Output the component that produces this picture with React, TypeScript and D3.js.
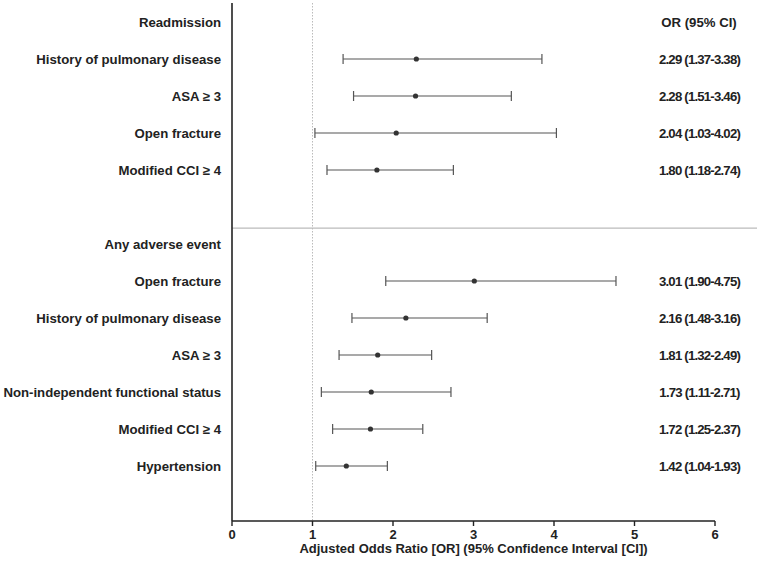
import React from "react";
import * as d3 from "d3";

const labels = [
  "Readmission",
  "History of pulmonary disease",
  "ASA ≥ 3",
  "Open fracture",
  "Modified CCI ≥ 4",
  "",
  "Any adverse event",
  "Open fracture",
  "History of pulmonary disease",
  "ASA ≥ 3",
  "Non-independent functional status",
  "Modified CCI ≥ 4",
  "Hypertension",
];
const orValues = [null, 2.29, 2.28, 2.04, 1.8, null, null, 3.01, 2.16, 1.81, 1.73, 1.72, 1.42];
const ciLow = [null, 1.38, 1.51, 1.03, 1.18, null, null, 1.91, 1.49, 1.33, 1.11, 1.25, 1.04];
const ciHigh = [null, 3.85, 3.47, 4.03, 2.75, null, null, 4.77, 3.17, 2.48, 2.72, 2.37, 1.93];
const ciHeader = "OR (95% CI)";
const ciText = [
  "",
  "2.29 (1.37-3.38)",
  "2.28 (1.51-3.46)",
  "2.04 (1.03-4.02)",
  "1.80 (1.18-2.74)",
  "",
  "",
  "3.01 (1.90-4.75)",
  "2.16 (1.48-3.16)",
  "1.81 (1.32-2.49)",
  "1.73 (1.11-2.71)",
  "1.72 (1.25-2.37)",
  "1.42 (1.04-1.93)",
];
const xTicks = [0, 1, 2, 3, 4, 5, 6];
const xTitle = "Adjusted Odds Ratio [OR] (95% Confidence Interval [CI])";

export default function App() {
  const W = 761, H = 569;
  const x = d3.scaleLinear().domain([0, 6]).range([232, 715]);
  const y = d3.scaleLinear().domain([0, 12]).range([22, 466]);
  const axisY = 521;
  const font = "'Liberation Sans', Arial, sans-serif";
  const textColor = "#222";
  const lineColor = "#555";
  const sepY = y(5.57);
  const fs = 13.2;

  return (
    <svg width={W} height={H} style={{ position: "absolute", left: 0, top: 0, background: "#fff" }}>
      {/* reference line at 1 */}
      <line x1={x(1)} x2={x(1)} y1={3} y2={axisY} stroke="#bbb" strokeWidth={1} strokeDasharray="1.5,1.5" />
      {/* separator */}
      <line x1={x(0)} x2={757} y1={sepY} y2={sepY} stroke="#bbb" strokeWidth={1.2} />
      {/* y axis */}
      <line x1={x(0)} x2={x(0)} y1={3} y2={axisY} stroke="#222" strokeWidth={1.6} />
      {/* x axis */}
      <line x1={x(0)} x2={x(6)} y1={axisY} y2={axisY} stroke="#222" strokeWidth={1.6} />
      {xTicks.map((t) => (
        <g key={t}>
          <line x1={x(t)} x2={x(t)} y1={axisY} y2={axisY + 5} stroke="#222" strokeWidth={1.4} />
          <text x={x(t)} y={axisY + 18} textAnchor="middle" fontFamily={font} fontWeight="bold" fontSize={13} fill={textColor}>
            {t}
          </text>
        </g>
      ))}
      <text x={(x(0) + x(6)) / 2} y={553} textAnchor="middle" fontFamily={font} fontWeight="bold" fontSize={13} fill={textColor}>
        {xTitle}
      </text>
      {labels.map((l, i) => (
        <text key={"l" + i} x={221} y={y(i)} dy="0.35em" textAnchor="end" fontFamily={font} fontWeight="bold" fontSize={fs} fill={textColor}>
          {l}
        </text>
      ))}
      <text x={699} y={y(0)} dy="0.35em" textAnchor="middle" fontFamily={font} fontWeight="bold" fontSize={fs} fill={textColor}>
        {ciHeader}
      </text>
      {ciText.map((l, i) => (
        <text key={"c" + i} x={699.5} y={y(i)} dy="0.35em" textAnchor="middle" fontFamily={font} fontWeight="bold" fontSize={fs} letterSpacing={-0.8} fill={textColor}>
          {l}
        </text>
      ))}
      {orValues.map((v, i) => {
        if (v == null) return null;
        const lo = ciLow[i] as number;
        const hi = ciHigh[i] as number;
        const yy = y(i);
        return (
          <g key={"e" + i}>
            <line x1={x(lo)} x2={x(hi)} y1={yy} y2={yy} stroke={lineColor} strokeWidth={1.2} />
            <line x1={x(lo)} x2={x(lo)} y1={yy - 5} y2={yy + 5} stroke={lineColor} strokeWidth={1.2} />
            <line x1={x(hi)} x2={x(hi)} y1={yy - 5} y2={yy + 5} stroke={lineColor} strokeWidth={1.2} />
            <circle cx={x(v)} cy={yy} r={2.6} fill="#333" />
          </g>
        );
      })}
    </svg>
  );
}
